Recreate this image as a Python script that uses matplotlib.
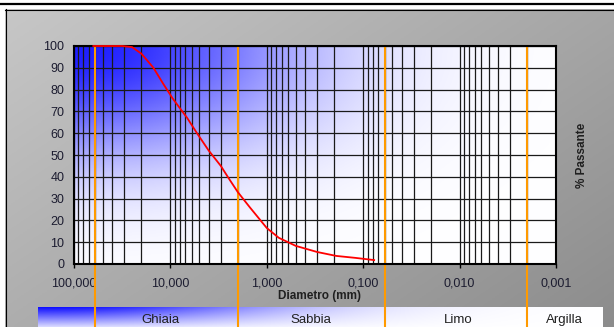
import numpy as np
import matplotlib
matplotlib.use("Agg")
import matplotlib.pyplot as plt

plt.rcParams['font.family'] = ['Liberation Sans', 'DejaVu Sans']

# curva granulometrica
diametri = [63, 31.5, 25, 20, 15, 12, 9.5, 6.7, 5.3, 4, 3, 2.5, 2, 1.5, 1,
            0.75, 0.5, 0.3, 0.19, 0.12, 0.077]
passante = [100, 100, 99.5, 96.5, 90, 83, 76, 67, 60, 52, 45, 39.5, 33, 26, 16.5,
            12, 8.3, 5.5, 3.7, 2.8, 1.8]

# limiti tra le classi (mm)
limiti = [60, 2, 0.06, 0.002]
classi = ["Ghiaia", "Sabbia", "Limo", "Argilla"]
classi_x = [160, 311, 458, 564]   # posizione in pixel nella barra

tick_d = [100, 10, 1, 0.1, 0.01, 0.001]
tick_lab = ["100,000", "10,000", "1,000", "0,100", "0,010", "0,001"]
y_ticks = list(range(0, 101, 10))

W, H = 614, 327
fig = plt.figure(figsize=(W / 100, H / 100), dpi=100)

# sfondo in coordinate pixel
bg = fig.add_axes([0, 0, 1, 1])
bg.set_xlim(0, W)
bg.set_ylim(H, 0)
bg.axis('off')

u, v = np.meshgrid(np.linspace(0, 1, 200), np.linspace(0, 1, 120))
g = 0.78 - 0.13 * u - 0.1 * v
bg.imshow(np.dstack([g, g, g]), extent=[5, W, H, 9], aspect='auto', zorder=0)
bg.plot([0, W], [3.5, 3.5], color='black', lw=1.6, zorder=2)
bg.plot([5, W], [9.5, 9.5], color='black', lw=0.8, zorder=2)
bg.plot([5.5, 5.5], [9, H], color='black', lw=0.8, zorder=2)

# barra delle classi
u, v = np.meshgrid(np.linspace(0, 1, 300), np.linspace(0, 1, 40))
t = np.exp(-(u / 0.42) ** 2) * (1 - 0.85 * v)
c = 1 - 0.95 * t
bg.imshow(np.dstack([c, c, np.ones_like(c)]), extent=[38, 603, H, 307], aspect='auto', zorder=1)
for nome, xp in zip(classi, classi_x):
    bg.text(xp, 320, nome, ha='center', va='center', fontsize=9.5, color='#202020', zorder=3)

bg.text(319, 296, "Diametro (mm)", ha='center', va='center', fontsize=8.5, fontweight='bold', color='#202020')
bg.text(582, 155, "% Passante", ha='center', va='center', rotation=90, fontsize=8.5, fontweight='bold', color='#202020')

# grafico principale
ax = fig.add_axes([74 / W, 1 - 264 / H, 482 / W, 218 / H])
ax.set_xscale('log')
ax.set_xlim(100, 0.001)
ax.set_ylim(0, 100)
ax.set_facecolor('none')

u, v = np.meshgrid(np.linspace(0, 1, 300), np.linspace(0, 1, 150))
t = np.exp(-(u / 0.46) ** 2 - (v / 0.5) ** 2)
c = 1 - 0.88 * t
ax.imshow(np.dstack([c, c, np.ones_like(c)]), extent=[0, 1, 0, 1], transform=ax.transAxes,
          aspect='auto', zorder=0)

ax.grid(True, which='both', axis='x', color='#1a1a1a', lw=0.9, zorder=1)
ax.grid(True, which='major', axis='y', color='#1a1a1a', lw=0.9, zorder=1)
ax.set_axisbelow(False)

ax.plot(diametri, passante, color='red', lw=1.3, zorder=6, clip_on=False)

for d in limiti:
    ax.axvline(d, ymin=-0.3, ymax=1, color='#ff9a00', lw=1.5, clip_on=False, zorder=4)

ax.set_xticks(tick_d)
ax.set_xticklabels(tick_lab)
ax.xaxis.set_minor_formatter(matplotlib.ticker.NullFormatter())
ax.tick_params(axis='x', which='major', length=3, width=1, pad=7, labelsize=9, labelcolor='#1c1c30')
ax.tick_params(axis='x', which='minor', length=0)
ax.set_yticks(y_ticks)
ax.tick_params(axis='y', length=0, pad=7, labelsize=9, labelcolor='#1c1c30')
for s in ax.spines.values():
    s.set_linewidth(1.5)
    s.set_zorder(5)

fig.savefig("out.png", dpi=100)
